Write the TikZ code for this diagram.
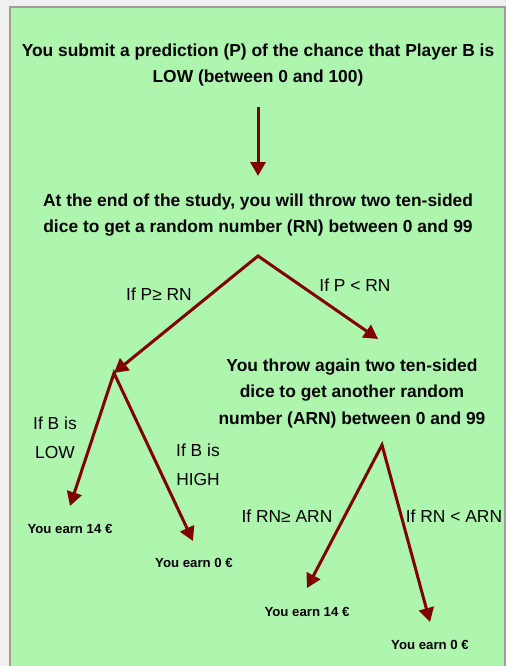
\documentclass[tikz,border=0pt]{standalone}
\usepackage{fontspec}
\setmainfont{Liberation Sans}
\usetikzlibrary{arrows.meta}
\definecolor{pagegray}{HTML}{F0F0F0}
\definecolor{boxgreen}{HTML}{AEF5AE}
\definecolor{boxline}{HTML}{9C9C9C}
\definecolor{arrowred}{HTML}{800000}
\tikzset{
  stagetext/.style={font=\bfseries\fontsize{17.4}{26.5}\selectfont, align=center},
  branchlabel/.style={font=\fontsize{17.4}{29}\selectfont, align=center},
  payoff/.style={font=\bfseries\fontsize{13.2}{15}\selectfont},
  onearrow/.style={draw=arrowred, line width=3pt, -{Triangle[width=15pt,length=14pt]}},
  fork/.style={draw=arrowred, line width=3pt, line join=miter,
    {Triangle[width=15pt,length=14pt]}-{Triangle[width=15pt,length=14pt]}},
}
\begin{document}
\begin{tikzpicture}[x=1pt,y=-1pt]
		\useasboundingbox (0,0) rectangle (506,666);
		\fill[pagegray] (0,0) rectangle (506,666);
		\draw[boxline, line width=1.3pt, fill=boxgreen] (10,7) rectangle (505,690);
		% stages
		\node[stagetext] (submit) at (258,65) {You submit a prediction (P) of the chance that Player B is\\LOW (between 0 and 100)};
		\node[stagetext] (study) at (258,215) {At the end of the study, you will throw two ten-sided\\dice to get a random number (RN) between 0 and 99};
		\node[stagetext] (again) at (352,393) {You throw again two ten-sided\\dice to get another random\\number (ARN) between 0 and 99};
		% branch points
		\coordinate (drop) at (258,107);
		\coordinate (dropend) at (258,176);
		\coordinate (root) at (258,256);
		\coordinate (lhub) at (114,373);
		\coordinate (rthrow) at (378,339);
		\coordinate (rhub) at (382,445);
		\coordinate (lowend) at (70,506);
		\coordinate (highend) at (193,541);
		\coordinate (geqend) at (307,588);
		\coordinate (lessend) at (430,622);
		% payoffs
		\node[payoff] (earnA) at (70,529) {You earn 14 €};
		\node[payoff] (earnB) at (194,563) {You earn 0 €};
		\node[payoff] (earnC) at (307,612) {You earn 14 €};
		\node[payoff] (earnD) at (430,645) {You earn 0 €};
		% labels
		\node[branchlabel] (pgeq) at (159,294) {If P≥ RN};
		\node[branchlabel] (pless) at (355,285) {If P < RN};
		\node[branchlabel] (blow) at (55,438) {If B is\\LOW};
		\node[branchlabel] (bhigh) at (198,465) {If B is\\HIGH};
		\node[branchlabel] (rgeq) at (287,516) {If RN≥ ARN};
		\node[branchlabel] (rless) at (454,516) {If RN < ARN};
		% arrows
		\draw[onearrow] (drop) -- (dropend);
		\draw[fork] (lhub) -- (root) -- (rthrow);
		\draw[fork] (lowend) -- (lhub) -- (highend);
		\draw[fork] (geqend) -- (rhub) -- (lessend);
	\end{tikzpicture}
\end{document}
